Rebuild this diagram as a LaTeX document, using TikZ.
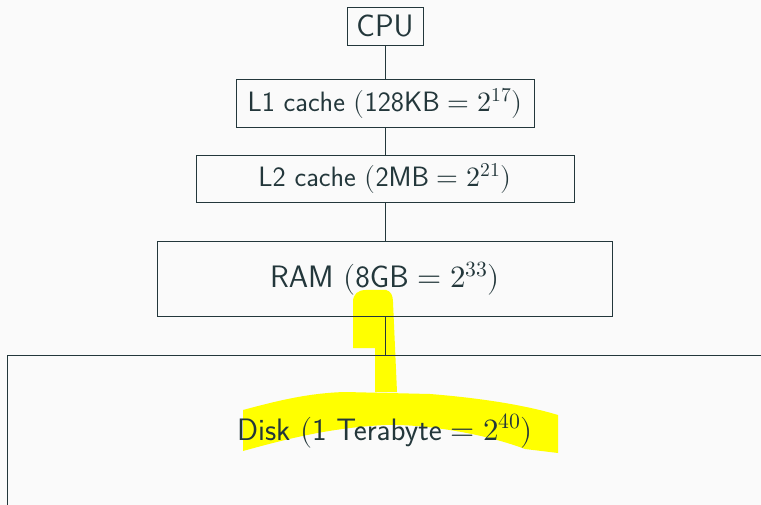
\documentclass[tikz,border=0pt]{standalone}
\usepackage{amsmath}
\usepackage{unicode-math}
\setmathfont{Latin Modern Math}
\definecolor{mDarkTeal}{HTML}{23373B}
\definecolor{slideBg}{HTML}{FAFAFA}
\definecolor{marker}{HTML}{FFFF00}
\begin{document}
\begin{tikzpicture}[x=1pt, y=-1pt,
	level/.style={draw=mDarkTeal, line width=0.9pt, text=mDarkTeal, inner sep=0pt, font=\fontsize{31}{36}\selectfont\sffamily},
	cache/.style={level, font=\fontsize{28}{33}\selectfont\sffamily},
	link/.style={draw=mDarkTeal, line width=0.9pt}]
	% Slide background
	\fill[slideBg] (0,0) rectangle (761,505);
	\useasboundingbox (0,0) rectangle (761,505);
	\clip (0,0) rectangle (761,505);
	% Highlighter strokes
	\fill[marker] (353,348) -- (353,302) .. controls (353,294) and (358,290) .. (366,290) -- (386,290) .. controls (391,291) and (393,296) .. (393,302) -- (397,392) -- (375,392) -- (375,348) -- cycle;
	\fill[marker] (243,410) .. controls (280,400) and (310,393) .. (345,392) -- (430,394) .. controls (480,398) and (525,405) .. (558,415) -- (558,453) -- (525,449) .. controls (480,432) and (420,424) .. (385,425) .. controls (330,428) and (290,438) .. (243,451) -- cycle;
	% Memory levels
	\node[level, minimum width=76, minimum height=38] (cpu) at (385,26) {CPU};
	\node[cache, minimum width=298, minimum height=48] (lone) at (385,103) {L1 cache $(\text{128KB} = 2^{17})$};
	\node[cache, minimum width=378, minimum height=47] (ltwo) at (385,178.5) {L2 cache $(\text{2MB} = 2^{21})$};
	\node[level, minimum width=455, minimum height=75] (ram) at (385,278.5) {RAM $(\text{8GB} = 2^{33})$};
	\node[level, minimum width=756, minimum height=152] (disk) at (385,431) {Disk $(\text{1 Terabyte} = 2^{40})$};
	% Connections
	\draw[link] (cpu) -- (lone);
	\draw[link] (lone) -- (ltwo);
	\draw[link] (ltwo) -- (ram);
	\draw[link] (ram) -- (disk);
\end{tikzpicture}
\end{document}
